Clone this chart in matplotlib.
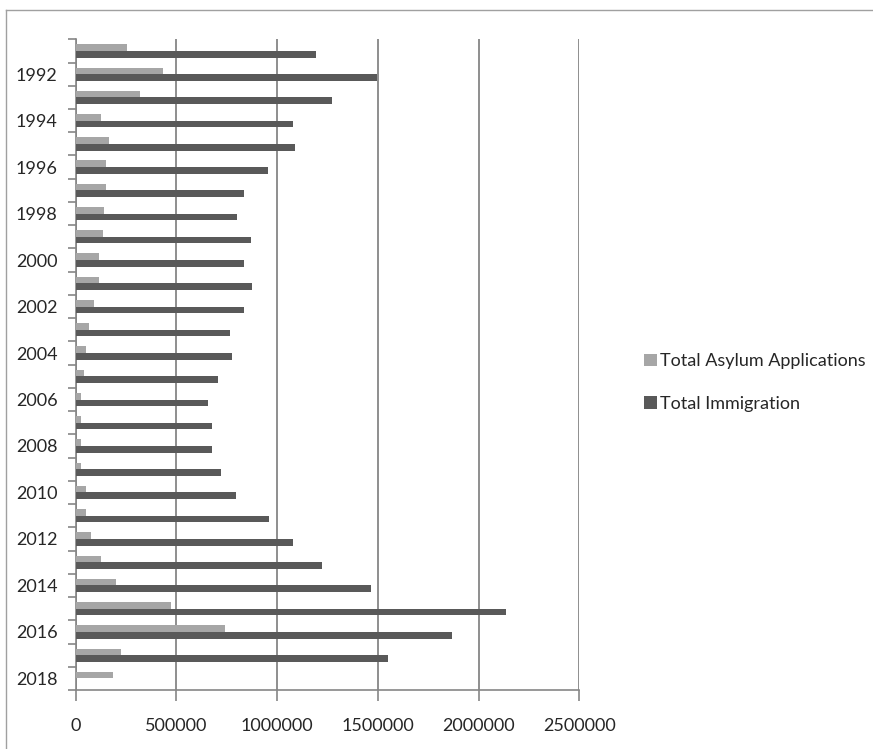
import matplotlib.pyplot as plt
from matplotlib.lines import Line2D
import numpy as np

# ------------------------------------------------------------------
# Dados
# ------------------------------------------------------------------
years = list(range(1991, 2019))
asylum = [256000, 433000, 318000, 127000, 165000, 149000, 149000, 140000,
          136000, 117000, 117000, 91000, 68000, 49000, 40000, 28000,
          28000, 25000, 28000, 49000, 53000, 76000, 127000, 201000,
          475000, 742000, 224000, 186000]
immigration = [1195000, 1497000, 1273000, 1080000, 1089000, 956000, 837000,
               801000, 869000, 837000, 873000, 837000, 765000, 778000,
               705000, 659000, 678000, 678000, 720000, 795000, 958000,
               1078000, 1224000, 1466000, 2136000, 1867000, 1549000, np.nan]
x_ticks = [0, 500000, 1000000, 1500000, 2000000, 2500000]

C_ASYLUM = "#A6A6A6"
C_IMMIG = "#595959"
C_AXIS = "#868686"
C_TEXT = "#262626"
FS = 13

plt.rcParams["font.family"] = ["Lato", "DejaVu Sans"]

fig = plt.figure(figsize=(8.73, 7.49), dpi=100)
ax = fig.add_axes([75.7 / 873, 1 - 690 / 749, (579.3 - 75.7) / 873, (690 - 39.3) / 749])

pos = np.arange(len(years))
w = 1 / 3.5
ax.barh(pos - w / 2, asylum, height=w, color=C_ASYLUM, label="Total Asylum Applications", zorder=3)
ax.barh(pos + w / 2, immigration, height=w, color=C_IMMIG, label="Total Immigration", zorder=3)

ax.set_xlim(0, 2500000)
ax.set_ylim(len(years) - 0.5, -0.5)

# eixo x
ax.set_xticks(x_ticks)
ax.set_xticklabels([str(v) for v in x_ticks], fontsize=FS, color=C_TEXT)
ax.tick_params(axis="x", length=8, width=1.2, color=C_AXIS, pad=12)
ax.grid(axis="x", color=C_AXIS, linewidth=1.3, zorder=0)

# eixo y: rótulos nos anos pares, marcas nas fronteiras das categorias
lab_pos = [i for i, y in enumerate(years) if y % 2 == 0]
ax.set_yticks(lab_pos)
ax.set_yticklabels([str(years[i]) for i in lab_pos], fontsize=FS, color=C_TEXT)
ax.set_yticks(np.arange(-0.5, len(years), 1.0), minor=True)
ax.tick_params(axis="y", which="major", length=0, pad=13)
ax.tick_params(axis="y", which="minor", length=6, width=1.2, color=C_AXIS)

for s in ["top", "right"]:
    ax.spines[s].set_visible(False)
for s in ["left", "bottom"]:
    ax.spines[s].set_color(C_AXIS)
    ax.spines[s].set_linewidth(1.2)

leg = ax.legend(loc="center left", bbox_to_anchor=(644 / 873, 1 - 382.5 / 749),
                bbox_transform=fig.transFigure, frameon=False, fontsize=FS,
                handlelength=0.7, handleheight=0.7, handletextpad=0.2,
                labelspacing=1.45, borderpad=0, borderaxespad=0)
for t in leg.get_texts():
    t.set_color(C_TEXT)

# moldura (só esquerda e topo visíveis no recorte)
fig.add_artist(Line2D([6 / 873, 6 / 873], [0, 1 - 10 / 749], transform=fig.transFigure,
                      color="#A0A0A0", linewidth=1))
fig.add_artist(Line2D([6 / 873, 1], [1 - 10 / 749, 1 - 10 / 749], transform=fig.transFigure,
                      color="#A0A0A0", linewidth=1))

fig.savefig("out.png", dpi=100)
